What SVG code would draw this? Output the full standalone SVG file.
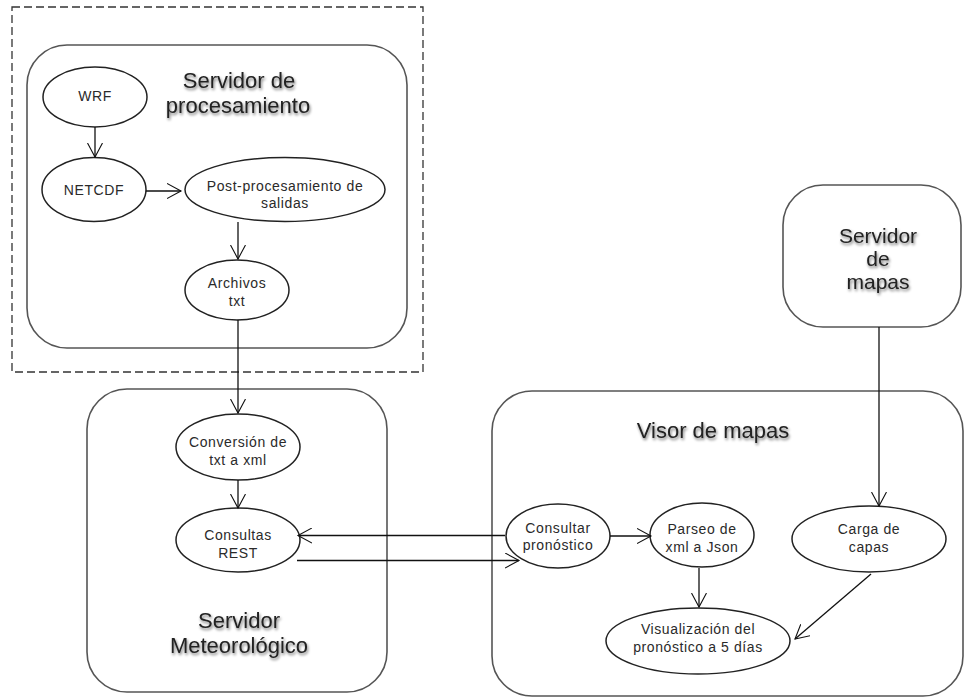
<svg xmlns="http://www.w3.org/2000/svg" width="965" height="700" viewBox="0 0 965 700">
<defs>
<filter id="sh" x="-20%" y="-40%" width="140%" height="180%">
<feGaussianBlur in="SourceAlpha" stdDeviation="1.6"/>
<feOffset dx="1" dy="1.5" result="b"/>
<feComponentTransfer><feFuncA type="linear" slope="0.55"/></feComponentTransfer>
<feMerge><feMergeNode/><feMergeNode in="SourceGraphic"/></feMerge>
</filter>
<marker id="ah" markerWidth="16" markerHeight="16" viewBox="0 0 16 16" refX="14" refY="8" orient="auto" markerUnits="userSpaceOnUse">
<path d="M0,0.5 L14,8 L0,15.5" fill="none" stroke="#111" stroke-width="1.1"/>
</marker>
</defs>
<style>
.box{fill:#fff;stroke:#555;stroke-width:1.6}
.ell{fill:#fff;stroke:#222;stroke-width:1.5}
.t{font-family:"Liberation Sans",Arial,sans-serif;font-size:14px;fill:#2a2a2a;text-anchor:middle;letter-spacing:0.6px}
.title{font-family:"Liberation Sans",Arial,sans-serif;font-size:22px;fill:#222;text-anchor:middle;filter:url(#sh)}
.c{fill:none;stroke:#111;stroke-width:1.3;marker-end:url(#ah)}
</style>
<rect width="965" height="700" fill="#fff"/>
<g id="procesamiento-frame">
<rect x="12" y="7" width="411" height="365" fill="none" stroke="#333" stroke-width="1.3" stroke-dasharray="8,4"/>
</g>
<g id="servidor-procesamiento">
<rect class="box" x="27" y="45" width="380" height="303" rx="40" ry="40"/>
<text class="title" x="239" y="88">Servidor de</text>
<text class="title" x="238" y="113">procesamiento</text>
</g>
<g id="servidor-meteorologico">
<rect class="box" x="87" y="389" width="300" height="303" rx="40" ry="40"/>
<text class="title" x="239" y="628">Servidor</text>
<text class="title" x="239" y="653">Meteorológico</text>
</g>
<g id="visor-mapas">
<rect class="box" x="492" y="391" width="471" height="305" rx="40" ry="40"/>
<text class="title" x="713" y="438">Visor de mapas</text>
</g>
<g id="servidor-mapas">
<rect class="box" x="783" y="185" width="178" height="142" rx="40" ry="40"/>
<text class="title" x="878" y="243" style="font-size:21px">Servidor</text>
<text class="title" x="878" y="266" style="font-size:21px">de</text>
<text class="title" x="878" y="289" style="font-size:21px">mapas</text>
</g>
<g id="wrf">
<ellipse class="ell" cx="95" cy="97" rx="52" ry="30"/>
<text class="t" x="95" y="101">WRF</text>
</g>
<g id="netcdf">
<ellipse class="ell" cx="94" cy="189.5" rx="52" ry="32"/>
<text class="t" x="94" y="195">NETCDF</text>
</g>
<g id="post">
<ellipse class="ell" cx="285" cy="189.5" rx="100" ry="32"/>
<text class="t" x="285" y="191">Post-procesamiento de</text>
<text class="t" x="285" y="208">salidas</text>
</g>
<g id="archivos">
<ellipse class="ell" cx="237" cy="290" rx="52" ry="30"/>
<text class="t" x="237" y="288">Archivos</text>
<text class="t" x="237" y="306">txt</text>
</g>
<g id="conversion">
<ellipse class="ell" cx="238" cy="447" rx="62" ry="33"/>
<text class="t" x="238" y="447">Conversión de</text>
<text class="t" x="238" y="465">txt a xml</text>
</g>
<g id="consultas">
<ellipse class="ell" cx="238" cy="540" rx="62" ry="32"/>
<text class="t" x="238" y="540">Consultas</text>
<text class="t" x="238" y="558">REST</text>
</g>
<g id="consultar">
<ellipse class="ell" cx="558" cy="536" rx="52" ry="32"/>
<text class="t" x="558" y="533">Consultar</text>
<text class="t" x="558" y="550">pronóstico</text>
</g>
<g id="parseo">
<ellipse class="ell" cx="702" cy="535" rx="52" ry="32"/>
<text class="t" x="702" y="534">Parseo de</text>
<text class="t" x="702" y="552">xml a Json</text>
</g>
<g id="carga">
<ellipse class="ell" cx="869" cy="539" rx="77" ry="33"/>
<text class="t" x="869" y="534">Carga de</text>
<text class="t" x="869" y="552">capas</text>
</g>
<g id="visualizacion">
<ellipse class="ell" cx="698" cy="641" rx="92" ry="33"/>
<text class="t" x="698" y="634">Visualización del</text>
<text class="t" x="698" y="652">pronóstico a 5 días</text>
</g>
<g id="connectors">
<line class="c" x1="95" y1="127" x2="95" y2="157"/>
<line class="c" x1="146" y1="191" x2="181" y2="191"/>
<line class="c" x1="238" y1="222" x2="238" y2="259"/>
<line class="c" x1="238" y1="320" x2="238" y2="413"/>
<line class="c" x1="238" y1="480" x2="238" y2="508"/>
<line class="c" x1="505" y1="535.5" x2="298" y2="535.5"/>
<line class="c" x1="297" y1="560.5" x2="519" y2="560.5"/>
<line class="c" x1="610" y1="536" x2="651" y2="536"/>
<line class="c" x1="699" y1="568" x2="699" y2="607"/>
<line class="c" x1="879" y1="327" x2="879" y2="506"/>
<line class="c" x1="871" y1="574" x2="795" y2="639"/>
</g>
</svg>
